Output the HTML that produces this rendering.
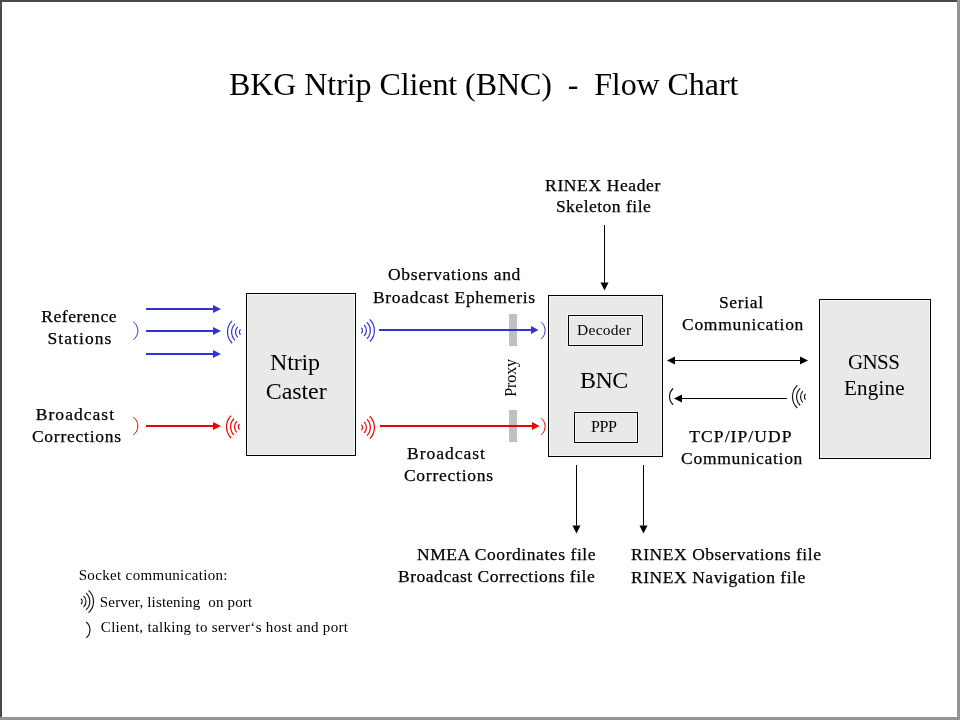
<!DOCTYPE html>
<html><head><meta charset="utf-8"><style>
html,body{margin:0;padding:0;background:#fff;}
body{width:960px;height:720px;overflow:hidden;position:relative;}
svg{position:absolute;left:0;top:0;will-change:transform;}
text{font-family:"Liberation Serif",serif;fill:#000;white-space:pre;}
</style></head><body>
<svg width="960" height="720" viewBox="0 0 960 720">
<rect x="0" y="0" width="960" height="720" fill="#fff"/>
<rect x="246.5" y="293.5" width="109" height="162" fill="#e9e9e9" stroke="#000" stroke-width="1"/><rect x="247.5" y="294.5" width="107" height="160" fill="none" stroke="#f5f5f5" stroke-width="1"/>
<rect x="548.5" y="295.5" width="114" height="161" fill="#e9e9e9" stroke="#000" stroke-width="1"/><rect x="549.5" y="296.5" width="112" height="159" fill="none" stroke="#f5f5f5" stroke-width="1"/>
<rect x="819.5" y="299.5" width="111" height="159" fill="#e9e9e9" stroke="#000" stroke-width="1"/><rect x="820.5" y="300.5" width="109" height="157" fill="none" stroke="#f5f5f5" stroke-width="1"/>
<rect x="567.5" y="314.5" width="76" height="32" fill="none" stroke="#f5f5f5" stroke-width="1"/><rect x="568.5" y="315.5" width="74" height="30" fill="#e9e9e9" stroke="#000" stroke-width="1"/><rect x="569.5" y="316.5" width="72" height="28" fill="none" stroke="#f5f5f5" stroke-width="1"/>
<rect x="573.5" y="411.5" width="65" height="32" fill="none" stroke="#f5f5f5" stroke-width="1"/><rect x="574.5" y="412.5" width="63" height="30" fill="#e9e9e9" stroke="#000" stroke-width="1"/><rect x="575.5" y="413.5" width="61" height="28" fill="none" stroke="#f5f5f5" stroke-width="1"/>
<rect x="509" y="314" width="8" height="32" fill="#c0c0c0"/>
<rect x="509" y="410" width="8" height="32" fill="#c0c0c0"/>
<line x1="146" y1="309" x2="213" y2="309" stroke="#3333cf" stroke-width="2"/><path d="M213,305 L221,309 L213,313 Z" fill="#3333cf"/>
<line x1="146" y1="331" x2="213" y2="331" stroke="#3333cf" stroke-width="2"/><path d="M213,327 L221,331 L213,335 Z" fill="#3333cf"/>
<line x1="146" y1="354" x2="213" y2="354" stroke="#3333cf" stroke-width="2"/><path d="M213,350 L221,354 L213,358 Z" fill="#3333cf"/>
<line x1="379" y1="330" x2="531.0" y2="330" stroke="#3333cf" stroke-width="2"/><path d="M531.0,326 L538.5,330 L531.0,334 Z" fill="#3333cf"/>
<line x1="146" y1="426" x2="213" y2="426" stroke="#ee0000" stroke-width="2"/><path d="M213,422 L221,426 L213,430 Z" fill="#ee0000"/>
<line x1="380" y1="426" x2="532.0" y2="426" stroke="#ee0000" stroke-width="2"/><path d="M532.0,422 L539.5,426 L532.0,430 Z" fill="#ee0000"/>
<line x1="675" y1="360.5" x2="800" y2="360.5" stroke="#000" stroke-width="1"/><path d="M800,356.5 L808,360.5 L800,364.5 Z" fill="#000"/>
<line x1="800" y1="360.5" x2="675" y2="360.5" stroke="#000" stroke-width="1"/><path d="M675,356.5 L667,360.5 L675,364.5 Z" fill="#000"/>
<line x1="787" y1="398.5" x2="682" y2="398.5" stroke="#000" stroke-width="1"/><path d="M682,394.5 L674,398.5 L682,402.5 Z" fill="#000"/>
<line x1="604.5" y1="225" x2="604.5" y2="282.5" stroke="#000" stroke-width="1"/><path d="M600.5,282.5 L604.5,290.5 L608.5,282.5 Z" fill="#000"/>
<line x1="576.5" y1="465" x2="576.5" y2="525.5" stroke="#000" stroke-width="1"/><path d="M572.5,525.5 L576.5,533.5 L580.5,525.5 Z" fill="#000"/>
<line x1="643.5" y1="465" x2="643.5" y2="525.5" stroke="#000" stroke-width="1"/><path d="M639.5,525.5 L643.5,533.5 L647.5,525.5 Z" fill="#000"/>
<path d="M361.36,327.74 A3.9,3.9 0 0 1 361.36,333.26" fill="none" stroke="#3333cf" stroke-width="1.2"/>
<path d="M364.12,324.98 A7.8,7.8 0 0 1 364.12,336.02" fill="none" stroke="#3333cf" stroke-width="1.2"/>
<path d="M366.87,322.23 A11.7,11.7 0 0 1 366.87,338.77" fill="none" stroke="#3333cf" stroke-width="1.2"/>
<path d="M369.77,319.33 A15.8,15.8 0 0 1 369.77,341.67" fill="none" stroke="#3333cf" stroke-width="1.2"/>
<path d="M361.36,424.64 A3.9,3.9 0 0 1 361.36,430.16" fill="none" stroke="#ee0000" stroke-width="1.2"/>
<path d="M364.12,421.88 A7.8,7.8 0 0 1 364.12,432.92" fill="none" stroke="#ee0000" stroke-width="1.2"/>
<path d="M366.87,419.13 A11.7,11.7 0 0 1 366.87,435.67" fill="none" stroke="#ee0000" stroke-width="1.2"/>
<path d="M369.77,416.23 A15.8,15.8 0 0 1 369.77,438.57" fill="none" stroke="#ee0000" stroke-width="1.2"/>
<path d="M240.54,329.34 A3.9,3.9 0 0 0 240.54,334.86" fill="none" stroke="#3333cf" stroke-width="1.2"/>
<path d="M237.78,326.58 A7.8,7.8 0 0 0 237.78,337.62" fill="none" stroke="#3333cf" stroke-width="1.2"/>
<path d="M235.03,323.83 A11.7,11.7 0 0 0 235.03,340.37" fill="none" stroke="#3333cf" stroke-width="1.2"/>
<path d="M232.13,320.93 A15.8,15.8 0 0 0 232.13,343.27" fill="none" stroke="#3333cf" stroke-width="1.2"/>
<path d="M239.54,424.04 A3.9,3.9 0 0 0 239.54,429.56" fill="none" stroke="#ee0000" stroke-width="1.2"/>
<path d="M236.78,421.28 A7.8,7.8 0 0 0 236.78,432.32" fill="none" stroke="#ee0000" stroke-width="1.2"/>
<path d="M234.03,418.53 A11.7,11.7 0 0 0 234.03,435.07" fill="none" stroke="#ee0000" stroke-width="1.2"/>
<path d="M231.13,415.63 A15.8,15.8 0 0 0 231.13,437.97" fill="none" stroke="#ee0000" stroke-width="1.2"/>
<path d="M805.59,393.99 A3.9,3.9 0 0 0 805.59,399.61" fill="none" stroke="#111" stroke-width="1.15"/>
<path d="M802.88,391.19 A7.8,7.8 0 0 0 802.88,402.41" fill="none" stroke="#111" stroke-width="1.15"/>
<path d="M800.17,388.38 A11.7,11.7 0 0 0 800.17,405.22" fill="none" stroke="#111" stroke-width="1.15"/>
<path d="M797.32,385.43 A15.8,15.8 0 0 0 797.32,408.17" fill="none" stroke="#111" stroke-width="1.15"/>
<path d="M80.98,598.75 A3.7,3.7 0 0 1 80.98,604.25" fill="none" stroke="#111" stroke-width="1.15"/>
<path d="M83.52,595.93 A7.5,7.5 0 0 1 83.52,607.07" fill="none" stroke="#111" stroke-width="1.15"/>
<path d="M86.06,593.10 A11.3,11.3 0 0 1 86.06,609.90" fill="none" stroke="#111" stroke-width="1.15"/>
<path d="M88.54,590.35 A15,15 0 0 1 88.54,612.65" fill="none" stroke="#111" stroke-width="1.15"/>
<path d="M133.32,321.82 A11.1,11.1 0 0 1 133.32,339.78" fill="none" stroke="#3333cf" stroke-width="1.0"/>
<path d="M133.32,417.02 A11.1,11.1 0 0 1 133.32,434.98" fill="none" stroke="#ee0000" stroke-width="1.0"/>
<path d="M541.13,322.00 A11.1,11.1 0 0 1 541.13,339.00" fill="none" stroke="#3333cf" stroke-width="1.0"/>
<path d="M541.13,418.00 A11.1,11.1 0 0 1 541.13,435.00" fill="none" stroke="#ee0000" stroke-width="1.0"/>
<path d="M673.14,388.43 A11,11 0 0 0 673.14,404.77" fill="none" stroke="#111" stroke-width="1.2"/>
<path d="M86.16,622.02 A10,10 0 0 1 86.16,637.78" fill="none" stroke="#111" stroke-width="1.15"/>
<text x="229.00" y="95.00" font-size="32" textLength="509.39" lengthAdjust="spacing">BKG Ntrip Client (BNC)  -  Flow Chart</text>
<text x="545.10" y="190.60" font-size="17.5" textLength="115.23" lengthAdjust="spacing" stroke="#000" stroke-width="0.25">RINEX Header</text>
<text x="555.90" y="212.20" font-size="17.5" textLength="94.87" lengthAdjust="spacing" stroke="#000" stroke-width="0.25">Skeleton file</text>
<text x="387.90" y="280.30" font-size="17.5" textLength="132.45" lengthAdjust="spacing" stroke="#000" stroke-width="0.25">Observations and</text>
<text x="372.90" y="302.80" font-size="17.5" textLength="162.21" lengthAdjust="spacing" stroke="#000" stroke-width="0.25">Broadcast Ephemeris</text>
<text x="41.30" y="321.90" font-size="17.5" textLength="75.17" lengthAdjust="spacing" stroke="#000" stroke-width="0.25">Reference</text>
<text x="47.50" y="343.80" font-size="17.5" textLength="63.81" lengthAdjust="spacing" stroke="#000" stroke-width="0.25">Stations</text>
<text x="35.80" y="419.80" font-size="17.5" textLength="78.26" lengthAdjust="spacing" stroke="#000" stroke-width="0.25">Broadcast</text>
<text x="31.90" y="441.70" font-size="17.5" textLength="89.21" lengthAdjust="spacing" stroke="#000" stroke-width="0.25">Corrections</text>
<text x="270.00" y="370.10" font-size="24" textLength="50.10" lengthAdjust="spacing">Ntrip</text>
<text x="265.80" y="398.90" font-size="24" textLength="60.89" lengthAdjust="spacing">Caster</text>
<text x="580.10" y="387.90" font-size="24" textLength="48.21" lengthAdjust="spacing">BNC</text>
<text x="847.90" y="368.80" font-size="21" textLength="51.98" lengthAdjust="spacing">GNSS</text>
<text x="844.00" y="394.80" font-size="21" textLength="60.52" lengthAdjust="spacing">Engine</text>
<text x="718.90" y="307.80" font-size="17.5" textLength="44.16" lengthAdjust="spacing" stroke="#000" stroke-width="0.25">Serial</text>
<text x="682.00" y="329.70" font-size="17.5" textLength="121.35" lengthAdjust="spacing" stroke="#000" stroke-width="0.25">Communication</text>
<text x="689.30" y="441.90" font-size="17.5" textLength="102.13" lengthAdjust="spacing" stroke="#000" stroke-width="0.25">TCP/IP/UDP</text>
<text x="681.10" y="463.50" font-size="17.5" textLength="121.25" lengthAdjust="spacing" stroke="#000" stroke-width="0.25">Communication</text>
<text x="407.00" y="458.60" font-size="17.5" textLength="77.86" lengthAdjust="spacing" stroke="#000" stroke-width="0.25">Broadcast</text>
<text x="403.90" y="480.70" font-size="17.5" textLength="89.21" lengthAdjust="spacing" stroke="#000" stroke-width="0.25">Corrections</text>
<text x="417.00" y="559.50" font-size="17.5" textLength="178.57" lengthAdjust="spacing" stroke="#000" stroke-width="0.25">NMEA Coordinates file</text>
<text x="398.00" y="581.50" font-size="17.5" textLength="196.77" lengthAdjust="spacing" stroke="#000" stroke-width="0.25">Broadcast Corrections file</text>
<text x="631.00" y="560.20" font-size="17.5" textLength="189.97" lengthAdjust="spacing" stroke="#000" stroke-width="0.25">RINEX Observations file</text>
<text x="631.00" y="582.70" font-size="17.5" textLength="174.37" lengthAdjust="spacing" stroke="#000" stroke-width="0.25">RINEX Navigation file</text>
<text x="78.70" y="580.00" font-size="15" textLength="148.77" lengthAdjust="spacing">Socket communication:</text>
<text x="99.80" y="606.70" font-size="15" textLength="152.37" lengthAdjust="spacing">Server, listening  on port</text>
<text x="100.80" y="632.00" font-size="15" textLength="247.17" lengthAdjust="spacing">Client, talking to server‘s host and port</text>
<text x="577.00" y="335.00" font-size="15.5" textLength="54.16" lengthAdjust="spacing">Decoder</text>
<text x="591.00" y="432.00" font-size="16" textLength="25.90" lengthAdjust="spacing">PPP</text>
<text transform="translate(515.8,396.8) rotate(-90)" x="0" y="0" font-size="16" textLength="37.90" lengthAdjust="spacing">Proxy</text>
<rect x="0" y="0" width="957" height="2" fill="#4a4a4a"/>
<rect x="0" y="0" width="2" height="717" fill="#4a4a4a"/>
<rect x="957" y="0" width="3" height="720" fill="#949494"/>
<rect x="0" y="717" width="960" height="3" fill="#949494"/>
</svg>
</body></html>
